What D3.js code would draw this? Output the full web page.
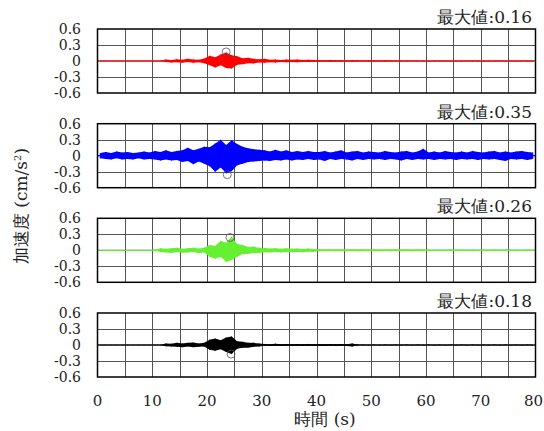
<!DOCTYPE html>
<html><head><meta charset="utf-8">
<script src="https://cdn.jsdelivr.net/npm/d3@7"></script>
<style>
body{margin:0;background:#fff;}
svg{display:block;}
</style></head><body>
<svg id="c" width="544" height="431"></svg>
<script>
// ---------- data (1-second bins, t = 0..79 s) ----------
const timeTicks = [0,10,20,30,40,50,60,70,80];
const yTicks = [0.6,0.3,0,-0.3,-0.6];
const yTickLabels = ["0.6","0.3","0","-0.3","-0.6"];
const seriesColors = ["#ff0000","#0000ff","#66f033","#000000"];
const maxLabels = ["最大値:0.16","最大値:0.35","最大値:0.26","最大値:0.18"];
const peakTimes = [23.5, 23.7, 24.2, 24.4];
const peakValues = [0.17, -0.355, 0.24, -0.17];

const upperA = [0.003,0.003,0.003,0.003,0.003,0.003,0.003,0.003,0.003,0.003,
  0.003,0.003,0.03,0.02,0.035,0.025,0.04,0.03,0.025,0.045,
  0.1,0.07,0.12,0.16,0.11,0.09,0.05,0.06,0.04,0.035,
  0.04,0.025,0.03,0.02,0.03,0.022,0.03,0.02,0.025,0.02,
  0.015,0.012,0.018,0.012,0.015,0.01,0.012,0.015,0.01,0.012,
  0.01,0.008,0.012,0.008,0.01,0.008,0.006,0.008,0.006,0.008,
  0.006,0.008,0.006,0.008,0.006,0.008,0.006,0.008,0.006,0.008,
  0.006,0.008,0.006,0.008,0.006,0.008,0.006,0.008,0.006,0.008];
const lowerA = [-0.003,-0.003,-0.003,-0.003,-0.003,-0.003,-0.003,-0.003,-0.003,-0.003,
  -0.003,-0.003,-0.02,-0.03,-0.025,-0.035,-0.02,-0.035,-0.025,-0.04,
  -0.08,-0.12,-0.08,-0.13,-0.14,-0.07,-0.06,-0.04,-0.045,-0.03,
  -0.035,-0.025,-0.03,-0.02,-0.025,-0.02,-0.025,-0.015,-0.02,-0.015,
  -0.015,-0.01,-0.015,-0.01,-0.012,-0.01,-0.012,-0.008,-0.01,-0.008,
  -0.01,-0.008,-0.01,-0.008,-0.01,-0.006,-0.008,-0.006,-0.008,-0.006,
  -0.008,-0.006,-0.008,-0.006,-0.008,-0.006,-0.008,-0.006,-0.008,-0.006,
  -0.008,-0.006,-0.008,-0.006,-0.008,-0.006,-0.008,-0.006,-0.008,-0.006];

const upperB = [0.05,0.07,0.05,0.08,0.06,0.07,0.05,0.06,0.08,0.06,
  0.09,0.07,0.1,0.07,0.09,0.1,0.15,0.1,0.13,0.17,
  0.16,0.23,0.3,0.2,0.29,0.22,0.17,0.14,0.12,0.11,
  0.1,0.08,0.11,0.08,0.1,0.07,0.09,0.07,0.09,0.07,
  0.07,0.09,0.06,0.08,0.1,0.06,0.08,0.09,0.06,0.08,
  0.07,0.06,0.09,0.07,0.06,0.08,0.09,0.06,0.08,0.13,
  0.06,0.08,0.06,0.09,0.07,0.06,0.08,0.06,0.09,0.07,
  0.06,0.08,0.09,0.06,0.08,0.06,0.08,0.09,0.07,0.06];
const lowerB = [-0.05,-0.06,-0.07,-0.05,-0.07,-0.06,-0.07,-0.05,-0.07,-0.06,
  -0.07,-0.09,-0.07,-0.09,-0.08,-0.12,-0.1,-0.16,-0.11,-0.15,
  -0.2,-0.3,-0.22,-0.33,-0.29,-0.18,-0.15,-0.12,-0.11,-0.1,
  -0.09,-0.1,-0.08,-0.09,-0.07,-0.09,-0.07,-0.08,-0.06,-0.08,
  -0.07,-0.1,-0.06,-0.08,-0.06,-0.07,-0.09,-0.06,-0.08,-0.06,
  -0.07,-0.06,-0.08,-0.06,-0.07,-0.09,-0.06,-0.08,-0.06,-0.07,
  -0.06,-0.08,-0.06,-0.07,-0.06,-0.08,-0.06,-0.07,-0.06,-0.08,
  -0.06,-0.07,-0.06,-0.08,-0.1,-0.06,-0.07,-0.06,-0.08,-0.06];

const upperC = [0.004,0.004,0.004,0.004,0.004,0.004,0.004,0.004,0.004,0.004,
  0.01,0.04,0.03,0.04,0.05,0.03,0.04,0.05,0.035,0.05,
  0.1,0.08,0.18,0.14,0.26,0.12,0.1,0.06,0.07,0.05,
  0.045,0.035,0.04,0.03,0.04,0.03,0.035,0.025,0.035,0.025,
  0.02,0.015,0.018,0.015,0.02,0.015,0.02,0.015,0.018,0.015,
  0.018,0.015,0.018,0.015,0.018,0.015,0.018,0.015,0.018,0.015,
  0.015,0.012,0.015,0.012,0.015,0.012,0.015,0.012,0.015,0.012,
  0.015,0.012,0.015,0.012,0.015,0.012,0.015,0.012,0.015,0.012];
const lowerC = [-0.004,-0.004,-0.004,-0.004,-0.004,-0.004,-0.004,-0.004,-0.004,-0.004,
  -0.01,-0.03,-0.04,-0.05,-0.03,-0.045,-0.04,-0.03,-0.05,-0.04,
  -0.12,-0.16,-0.12,-0.22,-0.18,-0.12,-0.07,-0.07,-0.05,-0.05,
  -0.035,-0.04,-0.03,-0.04,-0.03,-0.035,-0.03,-0.035,-0.025,-0.03,
  -0.015,-0.018,-0.015,-0.02,-0.015,-0.02,-0.015,-0.018,-0.015,-0.018,
  -0.015,-0.018,-0.015,-0.018,-0.015,-0.018,-0.015,-0.018,-0.015,-0.018,
  -0.012,-0.015,-0.012,-0.015,-0.012,-0.015,-0.012,-0.015,-0.012,-0.015,
  -0.012,-0.015,-0.012,-0.015,-0.012,-0.015,-0.012,-0.015,-0.012,-0.015];

const upperD = [0.003,0.003,0.003,0.003,0.003,0.003,0.003,0.003,0.003,0.003,
  0.003,0.003,0.03,0.025,0.04,0.03,0.04,0.045,0.03,0.04,
  0.1,0.12,0.09,0.14,0.16,0.07,0.06,0.04,0.04,0.03,
  0.02,0.015,0.025,0.015,0.02,0.015,0.018,0.015,0.02,0.015,
  0.018,0.015,0.018,0.015,0.018,0.015,0.03,0.01,0.008,0.006,
  0.008,0.006,0.008,0.006,0.008,0.006,0.008,0.006,0.008,0.006,
  0.008,0.006,0.008,0.006,0.008,0.006,0.008,0.006,0.008,0.006,
  0.008,0.006,0.008,0.006,0.008,0.006,0.008,0.006,0.008,0.006];
const lowerD = [-0.003,-0.003,-0.003,-0.003,-0.003,-0.003,-0.003,-0.003,-0.003,-0.003,
  -0.003,-0.003,-0.025,-0.03,-0.035,-0.04,-0.03,-0.04,-0.035,-0.03,
  -0.09,-0.11,-0.08,-0.13,-0.17,-0.07,-0.05,-0.05,-0.035,-0.03,
  -0.015,-0.02,-0.015,-0.018,-0.015,-0.018,-0.015,-0.018,-0.015,-0.018,
  -0.015,-0.018,-0.015,-0.018,-0.015,-0.018,-0.03,-0.01,-0.006,-0.008,
  -0.006,-0.008,-0.006,-0.008,-0.006,-0.008,-0.006,-0.008,-0.006,-0.008,
  -0.006,-0.008,-0.006,-0.008,-0.006,-0.008,-0.006,-0.008,-0.006,-0.008,
  -0.006,-0.008,-0.006,-0.008,-0.006,-0.008,-0.006,-0.008,-0.006,-0.008];

const uppers = [upperA, upperB, upperC, upperD];
const lowers = [lowerA, lowerB, lowerC, lowerD];

// ---------- layout ----------
const FONT = "DejaVu Serif";
const svg = d3.select("#c");
const left = 97.5, right = 535.5, panelH = 64;
const panelTops = [29, 123.7, 218.3, 313];
const x = d3.scaleLinear().domain([0,80]).range([left,right]);

panelTops.forEach((top, k) => {
  const y = d3.scaleLinear().domain([-0.6,0.6]).range([top+panelH, top]);
  const g = svg.append("g");
  d3.range(5,80,5).forEach(t => {
    g.append("line").attr("x1",Math.round(x(t))+0.5).attr("x2",Math.round(x(t))+0.5)
      .attr("y1",top).attr("y2",top+panelH).attr("stroke","#555").attr("stroke-width",1);
  });
  [0.3,-0.3].forEach(v => {
    g.append("line").attr("x1",left).attr("x2",right)
      .attr("y1",Math.round(y(v))+0.5).attr("y2",Math.round(y(v))+0.5)
      .attr("stroke","#555").attr("stroke-width",1);
  });
  g.append("line").attr("x1",left).attr("x2",right)
    .attr("y1",y(0)).attr("y2",y(0)).attr("stroke","#555").attr("stroke-width",1);
  const bins = uppers[k].map((u,i) => ({t:i+0.5, hi:u, lo:lowers[k][i]}));
  const area = d3.area().x(d=>x(d.t)).y0(d=>y(d.lo)).y1(d=>y(d.hi)).curve(d3.curveLinear);
  g.append("path").attr("d", area(bins)).attr("fill", seriesColors[k]).attr("stroke","none");
  g.selectAll(null).data(bins).join("line")
    .attr("x1",d=>x(d.t)).attr("x2",d=>x(d.t))
    .attr("y1",d=>y(d.hi)).attr("y2",d=>y(d.lo))
    .attr("stroke",seriesColors[k]).attr("stroke-width",1);
  g.append("line").attr("x1",left).attr("x2",right).attr("y1",y(0)).attr("y2",y(0))
    .attr("stroke",seriesColors[k]).attr("stroke-width",1);
  g.append("circle").attr("cx",x(peakTimes[k])).attr("cy",y(peakValues[k])).attr("r",4)
    .attr("fill","none").attr("stroke","#555").attr("stroke-width",0.8);
  g.append("rect").attr("x",left).attr("y",top).attr("width",right-left).attr("height",panelH)
    .attr("fill","none").attr("stroke","#000").attr("stroke-width",1.5);
  yTicks.forEach((v,i) => {
    g.append("text").attr("x",81).attr("y",y(v)).attr("dy","0.36em")
      .attr("text-anchor","end").style("font-size","14px").style("font-family",FONT)
      .attr("fill","#222").text(yTickLabels[i]);
  });
  g.append("text").attr("x",532).attr("y",top-6).attr("text-anchor","end")
    .style("font-size","17px").style("font-family",FONT).attr("fill","#222").text(maxLabels[k]);
});

const bottom = panelTops[3] + panelH;
timeTicks.forEach(t => {
  const tx = svg.append("text").attr("y",bottom+29).attr("text-anchor","middle")
    .style("font-size","15px").style("font-family",FONT).attr("fill","#222").text(t);
  const half = tx.node().getComputedTextLength() / 2;
  tx.attr("x", Math.min(x(t), 543 - half));
});
svg.append("text").attr("x",325).attr("y",425).attr("text-anchor","middle")
  .style("font-size","17px").style("font-family",FONT).attr("fill","#222").text("時間 (s)");
const yl = svg.append("text").attr("transform","translate(27,206) rotate(-90)")
  .attr("text-anchor","middle").style("font-size","17px").style("font-family",FONT).attr("fill","#222");
yl.append("tspan").text("加速度 (cm/s");
yl.append("tspan").attr("dy",-6).style("font-size","10px").text("2");
yl.append("tspan").attr("dy",6).text(")");
</script>
</body></html>
